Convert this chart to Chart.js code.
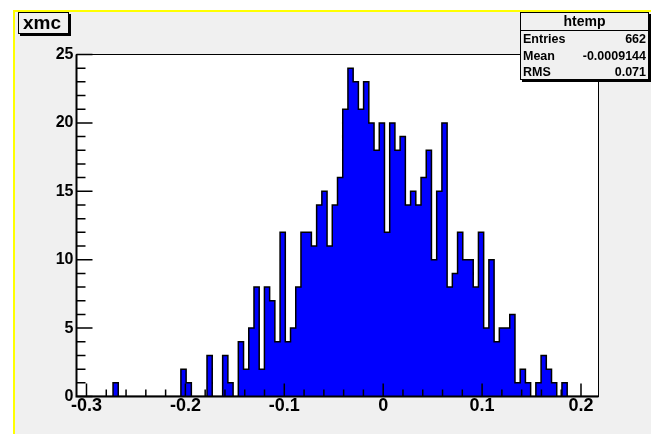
<!DOCTYPE html>
<html>
<head>
    <title>xmc</title>
    <style>
        body {
            margin: 0;
            padding: 0;
            background-color: #ffffff;
            font-family: "Liberation Sans", Arial, sans-serif;
        }
        #wrap {
            position: relative;
            width: 651px;
            height: 434px;
            overflow: hidden;
        }
        #pad {
            position: absolute;
            left: 13px;
            top: 10px;
            width: 651px;
            height: 434px;
            background-color: #f0f0f0;
            border-left: 2px solid #ffff00;
            border-top: 2px solid #ffff00;
        }
        canvas {
            position: absolute;
            left: 0;
            top: 0;
        }
        .pave {
            position: absolute;
            background-color: #f0f0f0;
            border: 1px solid #000000;
            box-shadow: 2px 2px 0 #000000;
            font-weight: bold;
            color: #000000;
            box-sizing: border-box;
        }
        #title {
            left: 18px;
            top: 12px;
            width: 51px;
            height: 22px;
            font-size: 19px;
            line-height: 19px;
            padding-left: 4px;
        }
        #stats {
            left: 520px;
            top: 12px;
            width: 129px;
            height: 68px;
            font-size: 12.5px;
        }
        #stats .head {
            text-align: center;
            font-size: 14px;
            height: 17px;
            line-height: 17px;
            border-bottom: 1px solid #000000;
        }
        #stats .row {
            display: flex;
            justify-content: space-between;
            height: 16.5px;
            line-height: 17px;
            padding: 0 2px;
        }
    </style>
    <script src="https://cdn.jsdelivr.net/npm/chart.js"></script>
</head>
<body>
    <div id="wrap">
        <div id="pad"></div>
        <canvas id="histo" width="651" height="434"></canvas>
        <div id="title" class="pave">xmc</div>
        <div id="stats" class="pave">
            <div class="head">htemp</div>
            <div class="row"><span>Entries</span><span id="sEntries"></span></div>
            <div class="row"><span>Mean</span><span id="sMean"></span></div>
            <div class="row"><span>RMS</span><span id="sRms"></span></div>
        </div>
    </div>
    <script>
        // histogram contents, 100 bins
        const xMin = -0.3101;
        const binWidth = 0.005278;
        const binCounts = [
            0, 0, 0, 0, 0, 0, 0, 1, 0, 0,
            0, 0, 0, 0, 0, 0, 0, 0, 0, 0,
            2, 1, 0, 0, 0, 3, 0, 0, 3, 1,
            0, 4, 2, 5, 8, 2, 8, 7, 4, 12,
            4, 5, 8, 12, 12, 11, 14, 15, 11, 14,
            16, 21, 24, 23, 21, 23, 20, 18, 20, 12,
            20, 18, 19, 14, 15, 14, 16, 18, 10, 15,
            20, 8, 9, 12, 10, 10, 8, 12, 5, 10,
            4, 5, 5, 6, 1, 2, 1, 0, 1, 3,
            2, 1, 0, 1, 0, 0, 0, 0, 0, 0
        ];
        const xTicks = [-0.3, -0.2, -0.1, 0, 0.1, 0.2];
        const xMinorStep = 0.02;
        const yTicks = [0, 5, 10, 15, 20, 25];
        const yMinorStep = 1;
        const yMax = 25;

        // stats box values
        const statEntries = "662";
        const statMean = "-0.0009144";
        const statRms = "0.071";

        document.getElementById("sEntries").textContent = statEntries;
        document.getElementById("sMean").textContent = statMean;
        document.getElementById("sRms").textContent = statRms;

        var xMax = xMin + binCounts.length * binWidth;
        var points = [];
        for (var i = 0; i < binCounts.length; i++) {
            points.push({ x: xMin + i * binWidth, y: binCounts[i] });
        }
        points.push({ x: xMax, y: 0 });

        // frame, axis lines and inward ticks, ROOT style
        var frameTicks = {
            id: "frameTicks",
            beforeDatasetsDraw: function(chart) {
                var a = chart.chartArea;
                var c = chart.ctx;
                c.save();
                c.fillStyle = "#ffffff";
                c.fillRect(a.left, a.top, a.right - a.left, a.bottom - a.top);
                c.restore();
            },
            afterDatasetsDraw: function(chart) {
                var a = chart.chartArea;
                var c = chart.ctx;
                var xs = chart.scales.x;
                var ys = chart.scales.y;
                c.save();
                c.strokeStyle = "#000000";
                c.lineWidth = 1;
                c.strokeRect(a.left, a.top, a.right - a.left, a.bottom - a.top);

                c.lineWidth = 2;
                c.beginPath();
                c.moveTo(a.left, a.top);
                c.lineTo(a.left, a.bottom);
                c.lineTo(a.right, a.bottom);
                c.stroke();

                c.lineWidth = 1.5;
                c.beginPath();
                for (var v = 0; v <= yMax + 1e-9; v += yMinorStep) {
                    var py = ys.getPixelForValue(v);
                    var len = (yTicks.indexOf(Math.round(v)) >= 0) ? 16 : 9;
                    c.moveTo(a.left, py);
                    c.lineTo(a.left + len, py);
                }
                var start = xTicks[0];
                for (var k = 0; start + k * xMinorStep <= xMax; k++) {
                    var xv = start + k * xMinorStep;
                    var px = xs.getPixelForValue(xv);
                    var major = (k % 5 === 0);
                    c.moveTo(px, a.bottom);
                    c.lineTo(px, a.bottom - (major ? 13 : 7));
                }
                c.stroke();
                c.restore();
            }
        };

        var ctx = document.getElementById("histo").getContext("2d");
        var histo = new Chart(ctx, {
            type: "line",
            data: {
                datasets: [{
                    label: "htemp",
                    data: points,
                    stepped: "before",
                    fill: "origin",
                    backgroundColor: "#0000ff",
                    borderColor: "#000000",
                    borderWidth: 1.5,
                    pointRadius: 0
                }]
            },
            options: {
                responsive: false,
                animation: false,
                layout: {
                    padding: { left: 0, top: 54.5, right: 52.5, bottom: 0 }
                },
                plugins: {
                    legend: { display: false },
                    tooltip: { enabled: false }
                },
                scales: {
                    x: {
                        type: "linear",
                        min: xMin,
                        max: xMax,
                        grid: { display: false, drawTicks: false },
                        border: { display: false },
                        afterBuildTicks: function(scale) {
                            scale.ticks = xTicks.map(function(v) { return { value: v }; });
                        },
                        afterFit: function(scale) {
                            scale.height = 37.5;
                        },
                        ticks: {
                            padding: -1,
                            maxRotation: 0,
                            autoSkip: false,
                            color: "#000000",
                            font: { family: "Liberation Sans", size: 18, weight: "bold" },
                            callback: function(v) { return String(Math.round(v * 10) / 10); }
                        }
                    },
                    y: {
                        min: 0,
                        max: yMax,
                        grid: { display: false, drawTicks: false },
                        border: { display: false },
                        afterBuildTicks: function(scale) {
                            scale.ticks = yTicks.map(function(v) { return { value: v }; });
                        },
                        afterFit: function(scale) {
                            scale.width = 76.5;
                        },
                        ticks: {
                            padding: 3,
                            autoSkip: false,
                            color: "#000000",
                            font: { family: "Liberation Sans", size: 16, weight: "bold" }
                        }
                    }
                }
            },
            plugins: [frameTicks]
        });
    </script>
</body>
</html>
